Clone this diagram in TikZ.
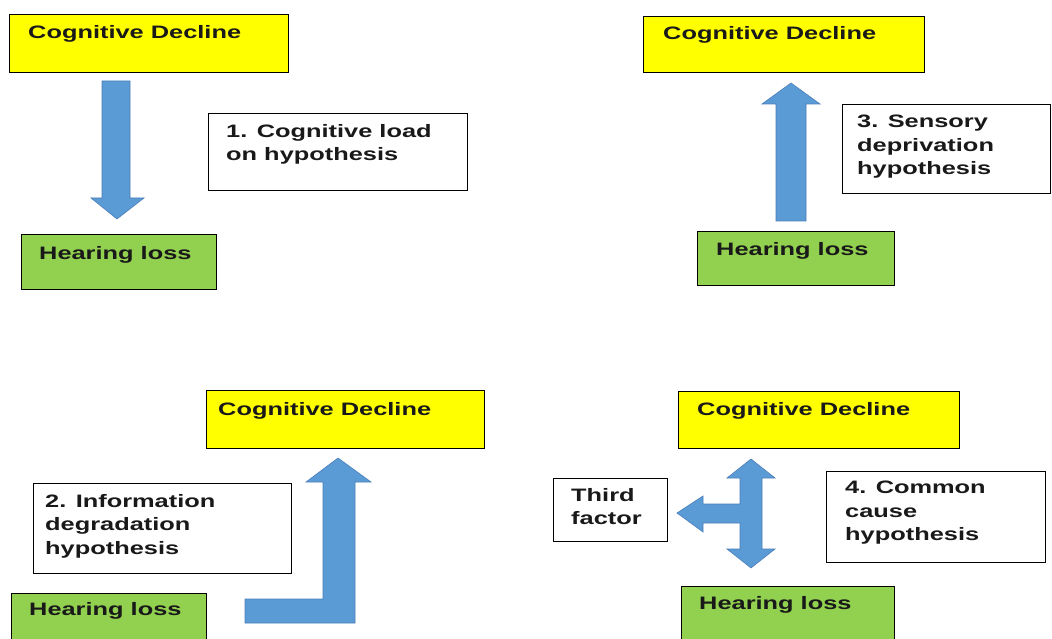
\documentclass[tikz,border=0pt]{standalone}
\usepackage{fontspec}
\newfontfamily\labfont{Liberation Sans}[FakeStretch=1.41]
\definecolor{cdyellow}{HTML}{FFFF00}
\definecolor{hlgreen}{HTML}{92D050}
\definecolor{arrblue}{HTML}{5B9BD5}
\definecolor{arredge}{HTML}{4A7EBB}
\tikzset{
  boxbase/.style={draw=black, line width=1.3pt, rectangle, inner sep=0pt, anchor=north west},
  ybox/.style={boxbase, fill=cdyellow},
  gbox/.style={boxbase, fill=hlgreen},
  wbox/.style={boxbase, fill=white},
  labfmt/.style={inner sep=0pt, align=left, text=black!90,
    font=\labfont\bfseries\fontsize{18}{23.5}\selectfont},
  lab/.style={labfmt, anchor=base west},
  mlab/.style={labfmt, anchor=north west},
  blockarrow/.style={fill=arrblue, draw=arredge, line width=0.6pt, line join=miter}
}
\begin{document}
\begin{tikzpicture}[x=1pt, y=-1pt]
\clip (0,0) rectangle (1052,639);
\fill[white] (0,0) rectangle (1052,639);
% ---------- Panel 1 ----------
\node[ybox, minimum width=279, minimum height=58] (cd1) at (9,14) {};
\node[lab] (cd1t) at (28,39) {Cognitive Decline};
\node[gbox, minimum width=195, minimum height=55] (hl1) at (21,234) {};
\node[lab] (hl1t) at (39,259) {Hearing loss};
\node[wbox, minimum width=259, minimum height=77] (t1) at (208,113) {};
\node[mlab] (t1t) at (226,124) {1. Cognitive load\\on hypothesis};
\path[blockarrow] (102,81) -- (130,81) -- (130,198) -- (144,198) -- (117,219)
  -- (91,198) -- (102,198) -- cycle;
% ---------- Panel 3 ----------
\node[ybox, minimum width=281, minimum height=56] (cd3) at (643,16) {};
\node[lab] (cd3t) at (663,40) {Cognitive Decline};
\node[wbox, minimum width=208, minimum height=89] (t3) at (842,104) {};
\node[mlab] (t3t) at (857,115) {3. Sensory\\deprivation\\hypothesis};
\node[gbox, minimum width=197, minimum height=54] (hl3) at (697,231) {};
\node[lab] (hl3t) at (716,255) {Hearing loss};
\path[blockarrow] (776,221) -- (776,104) -- (762,104) -- (791,83) -- (820,104)
  -- (806,104) -- (806,221) -- cycle;
% ---------- Panel 2 ----------
\node[ybox, minimum width=278, minimum height=58] (cd2) at (206,390) {};
\node[lab] (cd2t) at (218,415) {Cognitive Decline};
\node[wbox, minimum width=258, minimum height=90] (t2) at (33,483) {};
\node[mlab] (t2t) at (45,494) {2. Information\\degradation\\hypothesis};
\node[gbox, minimum width=195, minimum height=60] (hl2) at (11,593) {};
\node[lab] (hl2t) at (29,615) {Hearing loss};
\path[blockarrow] (245,599) -- (323,599) -- (323,482) -- (306,482) -- (338,458)
  -- (371,482) -- (355,482) -- (355,623) -- (245,623) -- cycle;
% ---------- Panel 4 ----------
\node[ybox, minimum width=281, minimum height=57] (cd4) at (678,391) {};
\node[lab] (cd4t) at (697,415) {Cognitive Decline};
\node[wbox, minimum width=114, minimum height=63] (tf) at (553,478) {};
\node[mlab] (tft) at (571,488) {Third\\factor};
\node[wbox, minimum width=219, minimum height=91] (cc) at (826,471) {};
\node[mlab] (cct) at (845,481) {4. Common\\cause\\hypothesis};
\node[gbox, minimum width=213, minimum height=60] (hl4) at (681,586) {};
\node[lab] (hl4t) at (699,609) {Hearing loss};
\path[blockarrow] (740,478) -- (727,478) -- (751,459) -- (775,478) -- (762,478)
  -- (762,549) -- (775,549) -- (751,568) -- (727,549) -- (740,549) -- (740,523)
  -- (703,523) -- (703,532) -- (677,513) -- (703,496) -- (703,504) -- (740,504) -- cycle;
\end{tikzpicture}
\end{document}
